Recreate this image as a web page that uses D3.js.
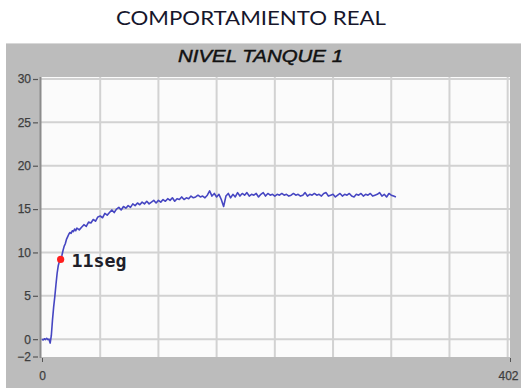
<!DOCTYPE html>
<html>
<head>
<meta charset="utf-8">
<script src="https://cdn.jsdelivr.net/npm/d3@7"></script>
<style>
  html, body { margin: 0; padding: 0; background: #ffffff; }
  svg { display: block; }
</style>
</head>
<body>
<script>
// Tank level (nivel) versus sample index, as logged from the real plant
const sampleIdx = [
  0, 1, 2, 3, 4, 5, 6, 7, 8, 9, 10, 11, 12, 13, 14, 15, 16, 17, 18, 19,
  20, 21, 22, 23, 24, 25, 26, 27, 28, 29,
  30, 32, 34, 36, 38, 40, 42, 44, 46, 48, 50, 52, 54, 56, 58, 60, 62, 64, 66, 68,
  70, 72, 74, 76, 78, 80, 82, 84, 86, 88, 90, 92, 94, 96, 98, 100, 102, 104, 106, 108,
  110, 112, 114, 116, 118, 120, 122, 124, 126, 128, 130, 132, 134, 136, 138, 140, 142, 144, 146, 148,
  150, 152, 154, 156, 158, 160, 162, 164, 166, 168, 170, 172, 174, 176, 178, 180, 182, 184, 186, 188,
  190, 192, 194, 196, 198, 200, 202, 204, 206, 208, 210, 212, 214, 216, 218, 220, 222, 224, 226, 228,
  230, 232, 234, 236, 238, 240, 242, 244, 246, 248, 250, 252, 254, 256, 258, 260, 262, 264, 266, 268,
  270, 272, 274, 276, 278, 280, 282, 284, 286, 288, 290, 292, 294, 296, 298, 300, 302, 304
];
const levelValues = [
  0, -0.1, 0.05, -0.05, 0.1, -0.05, 0, -0.45, 0.4, 2.2, 3.7, 4.9, 6.3, 7.6, 8.5, 9.0, 9.2, 9.6, 10.2, 10.7,
  11.0, 11.5, 11.8, 12.1, 12.3, 12.2, 12.5, 12.4, 12.7, 12.5,
  12.8, 12.6, 12.9, 13.2, 13.0, 13.5, 13.4, 13.8, 13.6, 14.1, 14.2, 14.0, 14.5, 14.3, 14.6, 14.9, 14.6, 15.0, 15.2, 14.9,
  15.3, 15.1, 15.4, 15.2, 15.6, 15.4, 15.7, 15.5, 15.8, 15.6, 15.9, 15.6, 15.8, 16.0, 15.7, 16.0, 15.8, 16.1, 15.9, 16.2,
  16.0, 16.3, 15.9, 16.2, 16.1, 16.4, 16.1, 16.3, 16.2, 16.5, 16.3, 16.4, 16.6, 16.4, 16.5, 16.3, 16.6, 17.1, 16.5, 16.8,
  16.4, 16.7, 16.1, 15.3, 16.5, 16.8, 16.3, 16.7, 16.4, 16.9, 16.5, 16.8, 16.6, 16.9, 16.5, 16.7, 16.6, 16.8, 16.4, 16.7,
  16.9, 16.5, 16.8, 16.6, 16.7, 16.5, 16.7, 16.6, 16.8, 16.6, 16.7, 16.5, 16.6, 16.8, 16.6, 16.7, 16.5, 16.6, 16.9, 16.5,
  16.7, 16.6, 16.8, 16.6, 16.7, 16.5, 16.8, 16.9, 16.5, 16.6, 16.7, 16.4, 16.6, 16.8, 16.5, 16.7, 16.6, 16.8, 16.5, 16.4,
  16.7, 16.6, 16.8, 16.5, 16.7, 16.6, 16.8, 16.5, 16.6, 16.7, 16.9, 16.5, 16.7, 16.4, 16.8, 16.6, 16.5, 16.4
];

// Highlighted reading: the sample reached after 11 s
const markerSample = 16;
const markerLevel = 9.2;
const markerLabel = "11seg";

const yTickValues = [30, 25, 20, 15, 10, 5, 0, -2];
const yGridValues = [30, 25, 20, 15, 10, 5, 0];
const xTickValues = [0, 402];
const xGridValues = [50, 100, 150, 200, 250, 300, 350, 400];

const pageTitle = "COMPORTAMIENTO REAL";
const graphTitle = "NIVEL TANQUE 1";

const W = 521, H = 388;
const plot = { left: 41, right: 510, top: 77, bottom: 357 };

const svg = d3.select("body").append("svg")
  .attr("width", W).attr("height", H);

// page heading
svg.append("text")
  .attr("x", 251).attr("y", 25)
  .attr("text-anchor", "middle")
  .attr("font-family", "Lato, 'Open Sans', sans-serif")
  .attr("font-size", 20)
  .attr("fill", "#16162c")
  .attr("textLength", 270)
  .attr("lengthAdjust", "spacingAndGlyphs")
  .text(pageTitle);

// grey graph panel
svg.append("rect")
  .attr("x", 6).attr("y", 43).attr("width", W - 6).attr("height", H - 43)
  .attr("fill", "#bcbcbc");
svg.append("line")
  .attr("x1", 6).attr("x2", W).attr("y1", 43.5).attr("y2", 43.5)
  .attr("stroke", "#d8d8d8").attr("stroke-width", 1);

svg.append("text")
  .attr("x", 260.5).attr("y", 62)
  .attr("text-anchor", "middle")
  .attr("font-family", "'Liberation Sans', Arial, sans-serif")
  .attr("font-style", "italic")
  .attr("font-size", 17)
  .attr("fill", "#111")
  .attr("stroke", "#111").attr("stroke-width", 0.45)
  .attr("textLength", 165)
  .attr("lengthAdjust", "spacingAndGlyphs")
  .text(graphTitle);

const x = d3.scaleLinear().domain([0, 402]).range([42, 510]);
const y = d3.scaleLinear().domain([-2, 30]).range([356.5, 79]);

// plot area
svg.append("rect")
  .attr("x", plot.left).attr("y", plot.top)
  .attr("width", plot.right - plot.left).attr("height", plot.bottom - plot.top)
  .attr("fill", "#fbfbfb");

// grid
const grid = svg.append("g");
grid.selectAll("line.h").data(yGridValues).join("line")
  .attr("class", "h")
  .attr("x1", plot.left).attr("x2", plot.right)
  .attr("y1", d => y(d)).attr("y2", d => y(d))
  .attr("stroke", "#d2d2d2").attr("stroke-width", 2);
grid.selectAll("line.v").data(xGridValues).join("line")
  .attr("class", "v")
  .attr("x1", d => x(d)).attr("x2", d => x(d))
  .attr("y1", plot.top).attr("y2", plot.bottom)
  .attr("stroke", "#d2d2d2").attr("stroke-width", 2);

// left axis
const yAxis = d3.axisLeft(y).tickValues(yTickValues).tickSize(5).tickPadding(2)
  .tickFormat(d3.format("d"));
const gy = svg.append("g").attr("transform", "translate(38,0)").call(yAxis);
gy.select(".domain").remove();
gy.selectAll(".tick line").attr("stroke", "#555").attr("stroke-width", 1.2);
gy.selectAll(".tick text")
  .attr("font-family", "'Liberation Sans', Arial, sans-serif")
  .attr("font-size", 12).attr("fill", "#3e3e3e")
  .attr("stroke", "#3e3e3e").attr("stroke-width", 0.25);
svg.append("line")
  .attr("x1", 40.5).attr("x2", 40.5).attr("y1", plot.top).attr("y2", plot.bottom + 1)
  .attr("stroke", "#8c8c8c").attr("stroke-width", 2);

// bottom axis
const xAxis = d3.axisBottom(x).tickValues(xTickValues).tickSize(4).tickPadding(9)
  .tickFormat(d3.format("d"));
const gx = svg.append("g").attr("transform", `translate(0,${plot.bottom + 1})`).call(xAxis);
gx.select(".domain").remove();
gx.selectAll(".tick line").attr("stroke", "#555").attr("stroke-width", 1);
gx.selectAll(".tick text")
  .attr("font-family", "'Liberation Sans', Arial, sans-serif")
  .attr("font-size", 12).attr("fill", "#3e3e3e")
  .attr("stroke", "#3e3e3e").attr("stroke-width", 0.25);
gx.selectAll(".tick").filter(d => d === 402).select("text").attr("dx", -2);

// level trace
const series = sampleIdx.map((s, i) => ({ s, v: levelValues[i] }));
svg.append("path")
  .datum(series)
  .attr("fill", "none")
  .attr("stroke", "#4646c2")
  .attr("stroke-width", 1.6)
  .attr("stroke-linejoin", "round")
  .attr("d", d3.line().x(d => x(d.s)).y(d => y(d.v)));

// highlighted point
svg.append("circle")
  .attr("cx", x(markerSample)).attr("cy", y(markerLevel))
  .attr("r", 3.6).attr("fill", "#ff1e1e");
svg.append("text")
  .attr("x", x(markerSample) + 11).attr("y", y(markerLevel) + 8)
  .attr("font-family", "'DejaVu Sans Mono', 'Liberation Mono', monospace")
  .attr("font-size", 17)
  .attr("font-weight", "bold")
  .attr("fill", "#1f1f2a")
  .attr("textLength", 55)
  .attr("lengthAdjust", "spacingAndGlyphs")
  .text(markerLabel);
</script>
</body>
</html>
